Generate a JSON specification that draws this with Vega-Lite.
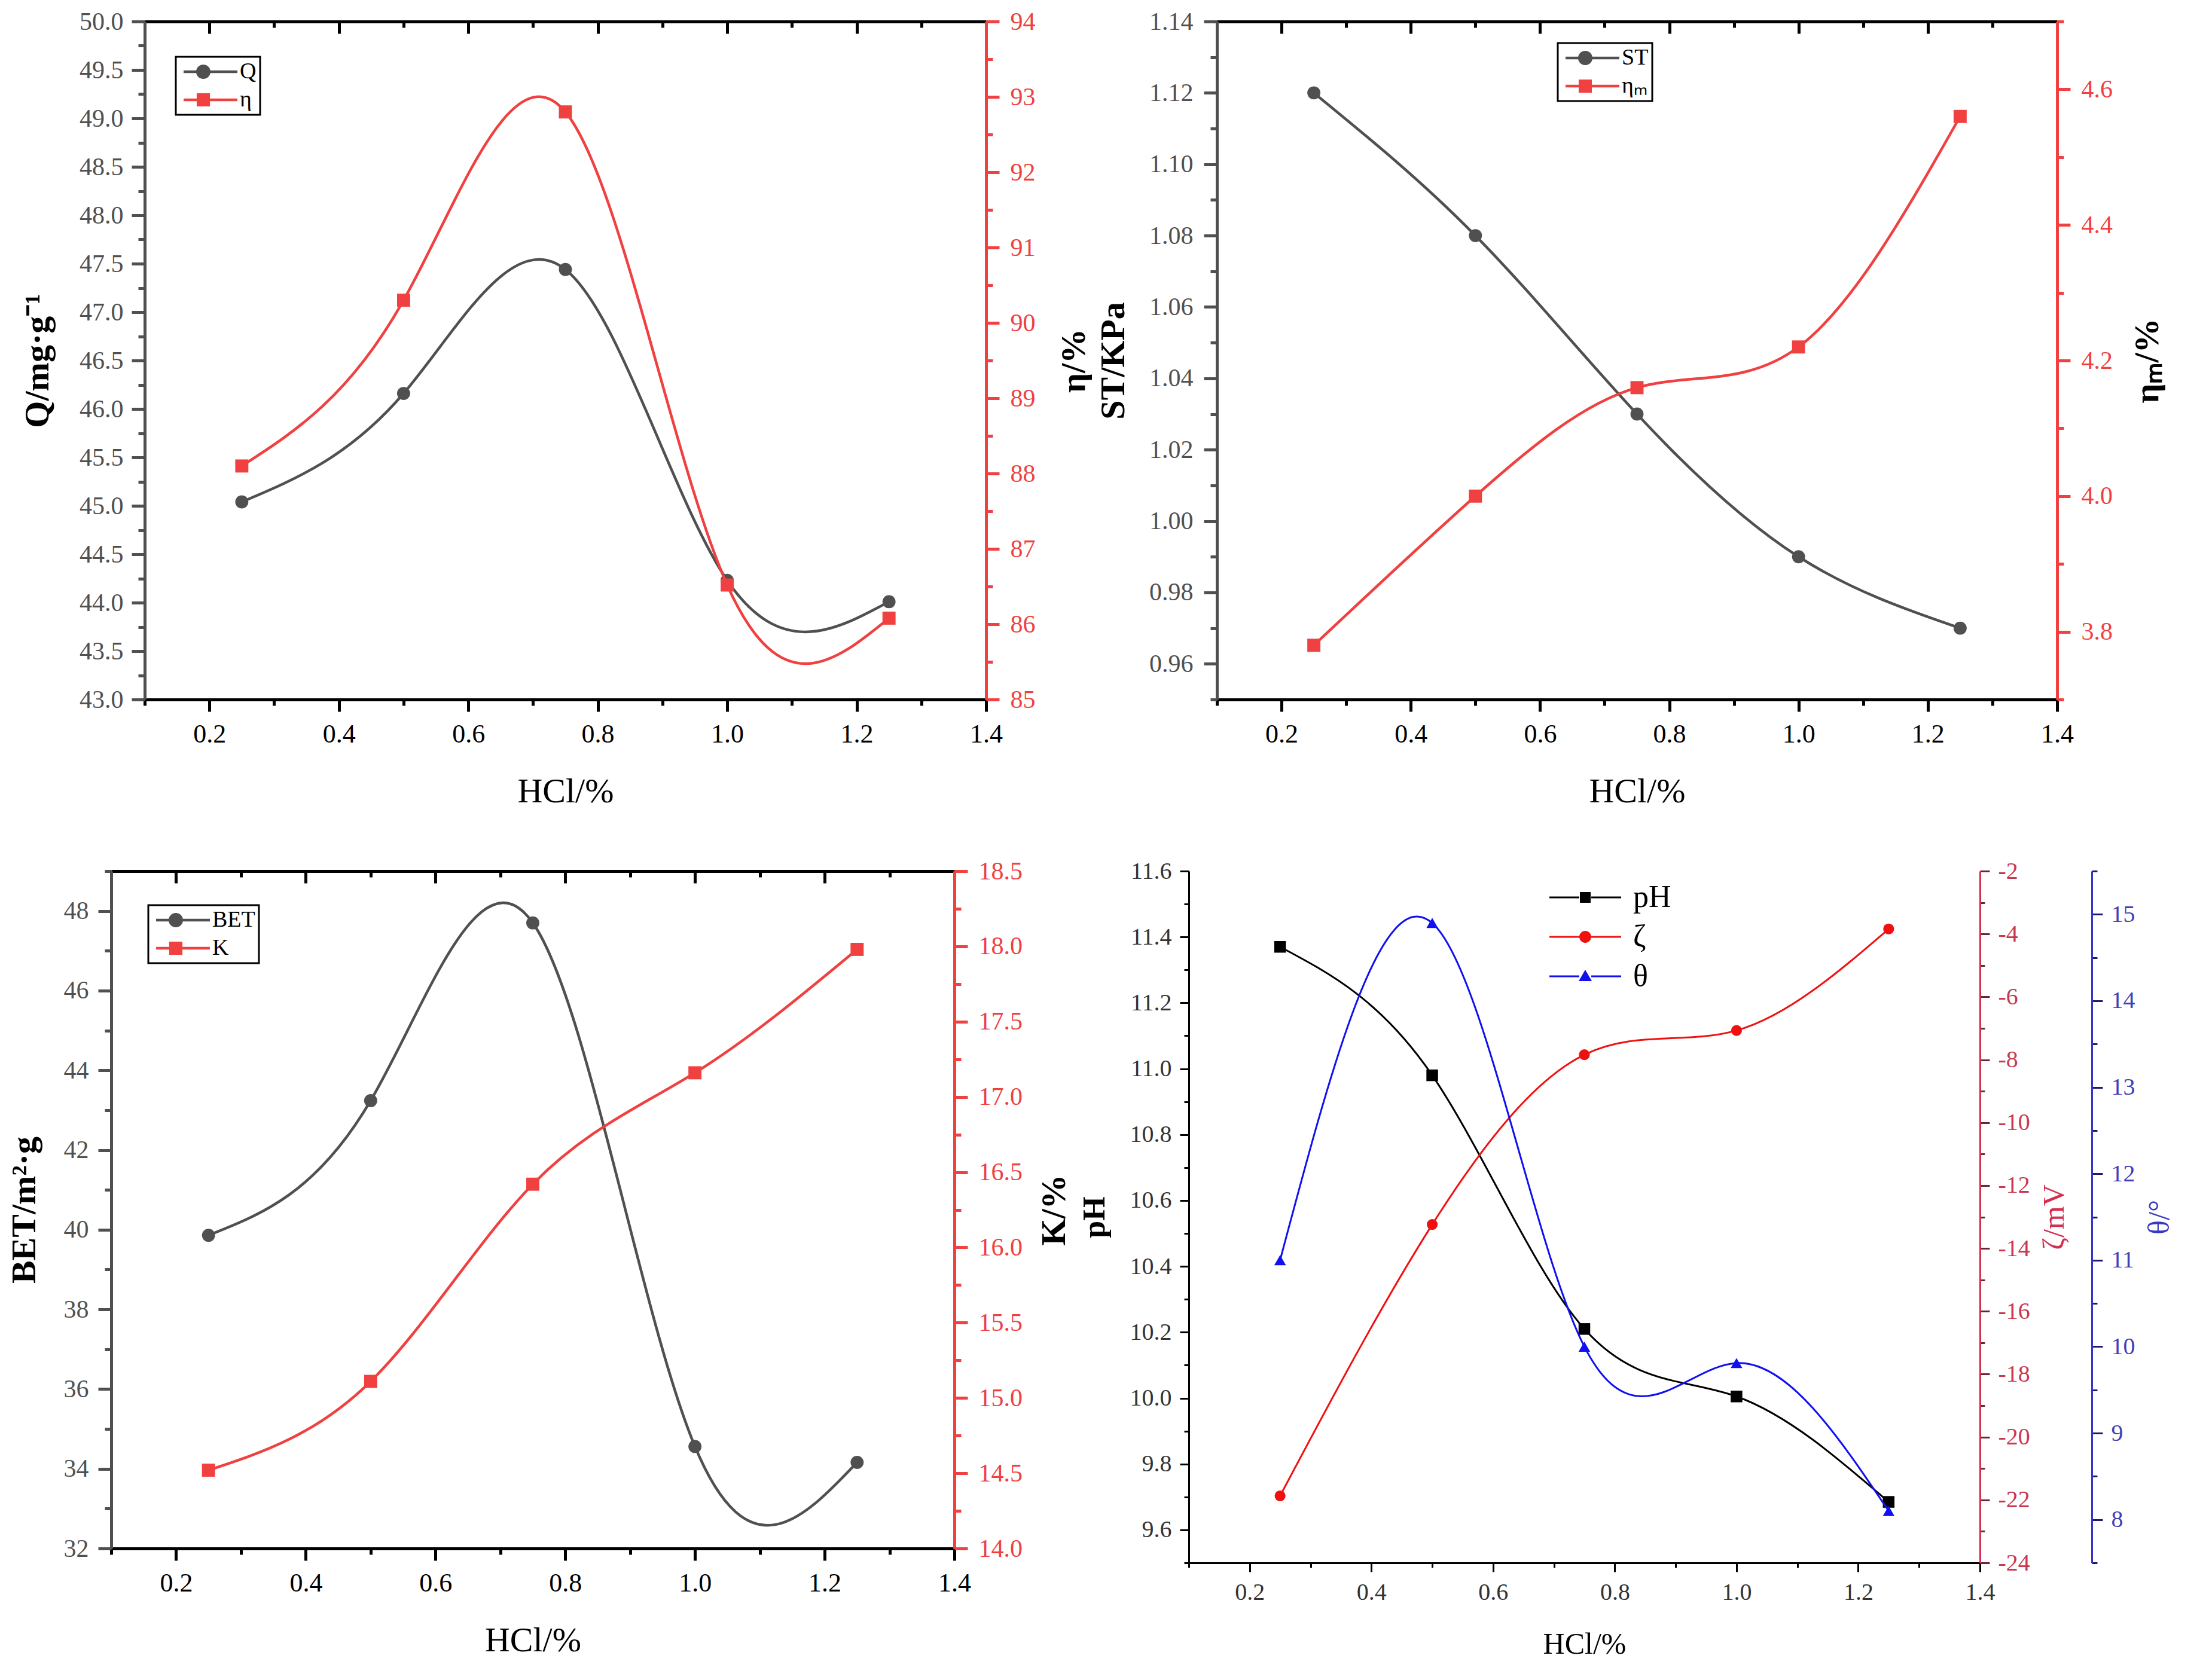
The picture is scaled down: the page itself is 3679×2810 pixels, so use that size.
{
  "$schema": "https://vega.github.io/schema/vega-lite/v6.json",
  "padding": {"left": 12, "top": 15, "right": 10, "bottom": 10},
  "datasets": {
    "d": [
      {"p": "a", "s": "Q", "x": 0.25, "y": 45.04},
      {"p": "a", "s": "Q", "x": 0.5, "y": 46.16},
      {"p": "a", "s": "Q", "x": 0.75, "y": 47.44},
      {"p": "a", "s": "Q", "x": 1.0, "y": 44.23},
      {"p": "a", "s": "Q", "x": 1.25, "y": 44.01},
      {"p": "a", "s": "η", "x": 0.25, "y": 88.1},
      {"p": "a", "s": "η", "x": 0.5, "y": 90.3},
      {"p": "a", "s": "η", "x": 0.75, "y": 92.8},
      {"p": "a", "s": "η", "x": 1.0, "y": 86.52},
      {"p": "a", "s": "η", "x": 1.25, "y": 86.08},
      {"p": "b", "s": "ST", "x": 0.25, "y": 1.12},
      {"p": "b", "s": "ST", "x": 0.5, "y": 1.08},
      {"p": "b", "s": "ST", "x": 0.75, "y": 1.03},
      {"p": "b", "s": "ST", "x": 1.0, "y": 0.99},
      {"p": "b", "s": "ST", "x": 1.25, "y": 0.97},
      {"p": "b", "s": "ηₘ", "x": 0.25, "y": 3.78},
      {"p": "b", "s": "ηₘ", "x": 0.5, "y": 4.0},
      {"p": "b", "s": "ηₘ", "x": 0.75, "y": 4.16},
      {"p": "b", "s": "ηₘ", "x": 1.0, "y": 4.22},
      {"p": "b", "s": "ηₘ", "x": 1.25, "y": 4.56},
      {"p": "c", "s": "BET", "x": 0.25, "y": 39.86},
      {"p": "c", "s": "BET", "x": 0.5, "y": 43.24},
      {"p": "c", "s": "BET", "x": 0.75, "y": 47.7},
      {"p": "c", "s": "BET", "x": 1.0, "y": 34.56},
      {"p": "c", "s": "BET", "x": 1.25, "y": 34.16},
      {"p": "c", "s": "K", "x": 0.25, "y": 14.52},
      {"p": "c", "s": "K", "x": 0.5, "y": 15.11},
      {"p": "c", "s": "K", "x": 0.75, "y": 16.42},
      {"p": "c", "s": "K", "x": 1.0, "y": 17.16},
      {"p": "c", "s": "K", "x": 1.25, "y": 17.98},
      {"p": "d", "s": "pH", "x": 0.25, "y": 11.37},
      {"p": "d", "s": "pH", "x": 0.5, "y": 10.98},
      {"p": "d", "s": "pH", "x": 0.75, "y": 10.21},
      {"p": "d", "s": "pH", "x": 1.0, "y": 10.005},
      {"p": "d", "s": "pH", "x": 1.25, "y": 9.685},
      {"p": "d", "s": "ζ", "x": 0.25, "y": -21.87},
      {"p": "d", "s": "ζ", "x": 0.5, "y": -13.24},
      {"p": "d", "s": "ζ", "x": 0.75, "y": -7.84},
      {"p": "d", "s": "ζ", "x": 1.0, "y": -7.07},
      {"p": "d", "s": "ζ", "x": 1.25, "y": -3.84},
      {"p": "d", "s": "θ", "x": 0.25, "y": 11.0},
      {"p": "d", "s": "θ", "x": 0.5, "y": 14.9},
      {"p": "d", "s": "θ", "x": 0.75, "y": 10.0},
      {"p": "d", "s": "θ", "x": 1.0, "y": 9.81},
      {"p": "d", "s": "θ", "x": 1.25, "y": 8.1}
    ]
  },
  "data": {"name": "d"},
  "spacing": 83,
  "resolve": {"scale": {"color": "independent"}, "legend": {"color": "independent"}},
  "vconcat": [
    {
      "spacing": 55,
      "bounds": "flush",
      "resolve": {"scale": {"color": "independent"}, "legend": {"color": "independent"}},
      "hconcat": [
        {"width": 1, "height": 1, "data": {"values": []}, "mark": {"type": "point", "opacity": 0}},
        {
          "spacing": 386,
          "bounds": "flush",
          "resolve": {"scale": {"color": "independent"}, "legend": {"color": "independent"}},
          "hconcat": [
            {
              "width": 1407, "height": 1134,
              "layer": [
                {
                  "transform": [{"filter": {"field": "s", "equal": "Q"}}],
                  "mark": {"type": "line", "interpolate": "natural", "strokeWidth": 4.5, "point": {"filled": true, "size": 480, "shape": "circle"}},
                  "encoding": {
                    "x": {"field": "x", "type": "quantitative", "scale": {"domain": [0.1, 1.4], "nice": false, "zero": false},
                      "axis": {"orient": "bottom", "values": [0.1,0.2,0.3,0.4,0.5,0.6,0.7,0.8,0.9,1,1.1,1.2,1.3,1.4],
                        "labelExpr": "round(datum.value*10)%2==0 ? format(datum.value,'.1f') : ''",
                        "tickSize": {"condition": {"test": "round(datum.value*10)%2==0", "value": 20}, "value": 10},
                        "title": "HCl/%", "titleFontWeight": "normal", "titleFontSize": 58, "titlePadding": 45,
                        "labelFontSize": 44, "labelColor": "#000000", "labelPadding": 16, "domainColor": "#000000", "tickColor": "#000000"}},
                    "y": {"field": "y", "type": "quantitative", "scale": {"domain": [43, 50], "nice": false, "zero": false},
                      "axis": {"orient": "left", "values": [43,43.25,43.5,43.75,44,44.25,44.5,44.75,45,45.25,45.5,45.75,46,46.25,46.5,46.75,47,47.25,47.5,47.75,48,48.25,48.5,48.75,49,49.25,49.5,49.75,50],
                        "labelExpr": "round(datum.value*4)%2==0 ? format(datum.value,'.1f') : ''",
                        "tickSize": {"condition": {"test": "round(datum.value*4)%2==0", "value": 22}, "value": 11},
                        "title": "Q/mg·g⁻¹", "titlePadding": 40, "labelPadding": 14,
                        "labelColor": "#505050", "domainColor": "#505050", "tickColor": "#505050"}},
                    "color": {"field": "s", "type": "nominal", "scale": {"domain": ["Q", "η"], "range": ["#505050", "#f04040"]},
                      "legend": {"title": null, "orient": "none", "legendX": 52, "legendY": 59, "strokeColor": "#000000",
                        "encode": {
                          "legend": {"update": {"stroke": {"value": "#000000"}, "strokeWidth": {"value": 3}}},
                          "symbols": {"update": {
                          "shape": {"signal": "datum.index===0 ? 'M-1,-0.19H0.85V0.19H-1Z M2.65,-0.19H6.5V0.19H2.65Z M0.75,0A1,1 0 1 1 2.75,0A1,1 0 1 1 0.75,0Z' : 'M-1,-0.19H0.85V0.19H-1Z M2.65,-0.19H6.5V0.19H2.65Z M0.83,-0.92H2.67V0.92H0.83Z'"},
                          "fill": {"signal": "datum.index===0 ? '#505050' : '#f04040'"},
                          "strokeWidth": {"value": 0}}}}}}
                  }
                },
                {
                  "transform": [{"filter": {"field": "s", "equal": "η"}}],
                  "mark": {"type": "line", "interpolate": "natural", "strokeWidth": 4.5, "point": {"filled": true, "size": 480, "shape": "square"}},
                  "encoding": {
                    "x": {"field": "x", "type": "quantitative", "scale": {"domain": [0.1, 1.4], "nice": false, "zero": false},
                      "axis": {"orient": "top", "values": [0.1,0.2,0.3,0.4,0.5,0.6,0.7,0.8,0.9,1,1.1,1.2,1.3,1.4], "labels": false, "title": null,
                        "tickSize": {"condition": {"test": "round(datum.value*10)%2==0", "value": -20}, "value": -10},
                        "domainColor": "#000000", "tickColor": "#000000"}},
                    "y": {"field": "y", "type": "quantitative", "scale": {"domain": [85, 94], "nice": false, "zero": false},
                      "axis": {"orient": "right", "values": [85,85.5,86,86.5,87,87.5,88,88.5,89,89.5,90,90.5,91,91.5,92,92.5,93,93.5,94],
                        "labelExpr": "round(datum.value*2)%2==0 ? ''+datum.value : ''",
                        "tickSize": {"condition": {"test": "round(datum.value*2)%2==0", "value": 22}, "value": 11},
                        "title": "η/%", "titleAngle": 270, "titleBaseline": "top", "titlePadding": 36, "labelPadding": 18,
                        "labelColor": "#f04040", "domainColor": "#f04040", "tickColor": "#f04040"}},
                    "color": {"field": "s", "type": "nominal"}
                  }
                }
              ],
              "resolve": {"scale": {"y": "independent"}, "axis": {"x": "independent"}}
            },
            {
              "width": 1405, "height": 1134,
              "layer": [
                {
                  "transform": [{"filter": {"field": "s", "equal": "ST"}}],
                  "mark": {"type": "line", "interpolate": "natural", "strokeWidth": 4.5, "point": {"filled": true, "size": 480, "shape": "circle"}},
                  "encoding": {
                    "x": {"field": "x", "type": "quantitative", "scale": {"domain": [0.1, 1.4], "nice": false, "zero": false},
                      "axis": {"orient": "bottom", "values": [0.1,0.2,0.3,0.4,0.5,0.6,0.7,0.8,0.9,1,1.1,1.2,1.3,1.4],
                        "labelExpr": "round(datum.value*10)%2==0 ? format(datum.value,'.1f') : ''",
                        "tickSize": {"condition": {"test": "round(datum.value*10)%2==0", "value": 20}, "value": 10},
                        "title": "HCl/%", "titleFontWeight": "normal", "titleFontSize": 58, "titlePadding": 45,
                        "labelFontSize": 44, "labelColor": "#000000", "labelPadding": 16, "domainColor": "#000000", "tickColor": "#000000"}},
                    "y": {"field": "y", "type": "quantitative", "scale": {"domain": [0.95, 1.14], "nice": false, "zero": false},
                      "axis": {"orient": "left", "values": [0.95,0.96,0.97,0.98,0.99,1,1.01,1.02,1.03,1.04,1.05,1.06,1.07,1.08,1.09,1.1,1.11,1.12,1.13,1.14],
                        "labelExpr": "round(datum.value*100)%2==0 ? format(datum.value,'.2f') : ''",
                        "tickSize": {"condition": {"test": "round(datum.value*100)%2==0", "value": 22}, "value": 11},
                        "title": "ST/KPa", "titlePadding": 30, "labelPadding": 18,
                        "labelColor": "#505050", "domainColor": "#505050", "tickColor": "#505050"}},
                    "color": {"field": "s", "type": "nominal", "scale": {"domain": ["ST", "ηₘ"], "range": ["#505050", "#f04040"]},
                      "legend": {"title": null, "orient": "none", "legendX": 570, "legendY": 36, "strokeColor": "#000000",
                        "encode": {
                          "legend": {"update": {"stroke": {"value": "#000000"}, "strokeWidth": {"value": 3}}},
                          "symbols": {"update": {
                          "shape": {"signal": "datum.index===0 ? 'M-1,-0.19H0.85V0.19H-1Z M2.65,-0.19H6.5V0.19H2.65Z M0.75,0A1,1 0 1 1 2.75,0A1,1 0 1 1 0.75,0Z' : 'M-1,-0.19H0.85V0.19H-1Z M2.65,-0.19H6.5V0.19H2.65Z M0.83,-0.92H2.67V0.92H0.83Z'"},
                          "fill": {"signal": "datum.index===0 ? '#505050' : '#f04040'"},
                          "strokeWidth": {"value": 0}}}}}}
                  }
                },
                {
                  "transform": [{"filter": {"field": "s", "equal": "ηₘ"}}],
                  "mark": {"type": "line", "interpolate": "natural", "strokeWidth": 4.5, "point": {"filled": true, "size": 480, "shape": "square"}},
                  "encoding": {
                    "x": {"field": "x", "type": "quantitative", "scale": {"domain": [0.1, 1.4], "nice": false, "zero": false},
                      "axis": {"orient": "top", "values": [0.1,0.2,0.3,0.4,0.5,0.6,0.7,0.8,0.9,1,1.1,1.2,1.3,1.4], "labels": false, "title": null,
                        "tickSize": {"condition": {"test": "round(datum.value*10)%2==0", "value": -20}, "value": -10},
                        "domainColor": "#000000", "tickColor": "#000000"}},
                    "y": {"field": "y", "type": "quantitative", "scale": {"domain": [3.7, 4.7], "nice": false, "zero": false},
                      "axis": {"orient": "right", "values": [3.7,3.8,3.9,4,4.1,4.2,4.3,4.4,4.5,4.6,4.7],
                        "labelExpr": "round(datum.value*10)%2==0 ? format(datum.value,'.1f') : ''",
                        "tickSize": {"condition": {"test": "round(datum.value*10)%2==0", "value": 22}, "value": 11},
                        "title": "ηₘ/%", "titleAngle": 270, "titleBaseline": "top", "titlePadding": 30, "labelPadding": 18,
                        "labelColor": "#f04040", "domainColor": "#f04040", "tickColor": "#f04040"}},
                    "color": {"field": "s", "type": "nominal"}
                  }
                }
              ],
              "resolve": {"scale": {"y": "independent"}, "axis": {"x": "independent"}}
            }
          ]
        }
      ]
    },
    {
      "spacing": 392,
      "bounds": "flush",
      "resolve": {"scale": {"color": "independent"}, "legend": {"color": "independent"}},
      "hconcat": [
        {
          "width": 1410, "height": 1133,
          "layer": [
            {
              "transform": [{"filter": {"field": "s", "equal": "BET"}}],
              "mark": {"type": "line", "interpolate": "natural", "strokeWidth": 4.5, "point": {"filled": true, "size": 480, "shape": "circle"}},
              "encoding": {
                "x": {"field": "x", "type": "quantitative", "scale": {"domain": [0.1, 1.4], "nice": false, "zero": false},
                  "axis": {"orient": "bottom", "values": [0.1,0.2,0.3,0.4,0.5,0.6,0.7,0.8,0.9,1,1.1,1.2,1.3,1.4],
                    "labelExpr": "round(datum.value*10)%2==0 ? format(datum.value,'.1f') : ''",
                    "tickSize": {"condition": {"test": "round(datum.value*10)%2==0", "value": 20}, "value": 10},
                    "title": "HCl/%", "titleFontWeight": "normal", "titleFontSize": 58, "titlePadding": 45,
                    "labelFontSize": 44, "labelColor": "#000000", "labelPadding": 16, "domainColor": "#000000", "tickColor": "#000000"}},
                "y": {"field": "y", "type": "quantitative", "scale": {"domain": [32, 49], "nice": false, "zero": false},
                  "axis": {"orient": "left", "values": [32,33,34,35,36,37,38,39,40,41,42,43,44,45,46,47,48,49],
                    "labelExpr": "round(datum.value)%2==0 ? ''+datum.value : ''",
                    "tickSize": {"condition": {"test": "round(datum.value)%2==0", "value": 22}, "value": 11},
                    "title": "BET/m²·g", "titlePadding": 36, "labelPadding": 16,
                    "labelColor": "#505050", "domainColor": "#505050", "tickColor": "#505050"}},
                "color": {"field": "s", "type": "nominal", "scale": {"domain": ["BET", "K"], "range": ["#505050", "#f04040"]},
                  "legend": {"title": null, "orient": "none", "legendX": 62, "legendY": 57, "strokeColor": "#000000",
                    "encode": {
                      "legend": {"update": {"stroke": {"value": "#000000"}, "strokeWidth": {"value": 3}}},
                      "symbols": {"update": {
                      "shape": {"signal": "datum.index===0 ? 'M-1,-0.19H0.85V0.19H-1Z M2.65,-0.19H6.5V0.19H2.65Z M0.75,0A1,1 0 1 1 2.75,0A1,1 0 1 1 0.75,0Z' : 'M-1,-0.19H0.85V0.19H-1Z M2.65,-0.19H6.5V0.19H2.65Z M0.83,-0.92H2.67V0.92H0.83Z'"},
                      "fill": {"signal": "datum.index===0 ? '#505050' : '#f04040'"},
                      "strokeWidth": {"value": 0}}}}}}
              }
            },
            {
              "transform": [{"filter": {"field": "s", "equal": "K"}}],
              "mark": {"type": "line", "interpolate": "natural", "strokeWidth": 4.5, "point": {"filled": true, "size": 480, "shape": "square"}},
              "encoding": {
                "x": {"field": "x", "type": "quantitative", "scale": {"domain": [0.1, 1.4], "nice": false, "zero": false},
                  "axis": {"orient": "top", "values": [0.1,0.2,0.3,0.4,0.5,0.6,0.7,0.8,0.9,1,1.1,1.2,1.3,1.4], "labels": false, "title": null,
                    "tickSize": {"condition": {"test": "round(datum.value*10)%2==0", "value": -20}, "value": -10},
                    "domainColor": "#000000", "tickColor": "#000000"}},
                "y": {"field": "y", "type": "quantitative", "scale": {"domain": [14, 18.5], "nice": false, "zero": false},
                  "axis": {"orient": "right", "values": [14,14.25,14.5,14.75,15,15.25,15.5,15.75,16,16.25,16.5,16.75,17,17.25,17.5,17.75,18,18.25,18.5],
                    "labelExpr": "round(datum.value*4)%2==0 ? format(datum.value,'.1f') : ''",
                    "tickSize": {"condition": {"test": "round(datum.value*4)%2==0", "value": 22}, "value": 11},
                    "title": "K/%", "titleAngle": 270, "titleBaseline": "top", "titlePadding": 25, "labelPadding": 18,
                    "labelColor": "#f04040", "domainColor": "#f04040", "tickColor": "#f04040"}},
                "color": {"field": "s", "type": "nominal"}
              }
            }
          ],
          "resolve": {"scale": {"y": "independent"}, "axis": {"x": "independent"}}
        },
        {
          "width": 1323, "height": 1157,
          "layer": [
            {
              "transform": [{"filter": {"field": "s", "equal": "pH"}}],
              "mark": {"type": "line", "interpolate": "natural", "strokeWidth": 3, "point": {"filled": true, "size": 380, "shape": "square"}},
              "encoding": {
                "x": {"field": "x", "type": "quantitative", "scale": {"domain": [0.1, 1.4], "nice": false, "zero": false},
                  "axis": {"orient": "bottom", "values": [0.1,0.2,0.3,0.4,0.5,0.6,0.7,0.8,0.9,1,1.1,1.2,1.3,1.4],
                    "labelExpr": "round(datum.value*10)%2==0 ? format(datum.value,'.1f') : ''",
                    "tickSize": {"condition": {"test": "round(datum.value*10)%2==0", "value": 15}, "value": 8},
                    "title": "HCl/%", "titleFontWeight": "normal", "titleFontSize": 50, "titlePadding": 42,
                    "labelFontSize": 40, "labelColor": "#333333", "labelPadding": 14, "domainColor": "#000000", "tickColor": "#000000",
                    "domainWidth": 3, "tickWidth": 3}},
                "y": {"field": "y", "type": "quantitative", "scale": {"domain": [9.5, 11.6], "nice": false, "zero": false},
                  "axis": {"orient": "left", "values": [9.5,9.6,9.7,9.8,9.9,10,10.1,10.2,10.3,10.4,10.5,10.6,10.7,10.8,10.9,11,11.1,11.2,11.3,11.4,11.5,11.6],
                    "labelExpr": "round(datum.value*10)%2==0 ? format(datum.value,'.1f') : ''",
                    "tickSize": {"condition": {"test": "round(datum.value*10)%2==0", "value": 15}, "value": 8},
                    "title": "pH", "titleFontSize": 52, "titlePadding": 32, "labelPadding": 14, "labelFontSize": 40,
                    "labelColor": "#333333", "domainColor": "#000000", "tickColor": "#000000", "domainWidth": 3, "tickWidth": 3}},
                "color": {"field": "s", "type": "nominal", "scale": {"domain": ["pH", "ζ", "θ"], "range": ["#000000", "#f01010", "#1010f0"]},
                  "legend": {"title": null, "orient": "none", "legendX": 581, "legendY": 12,
                    "labelFontSize": 52, "symbolSize": 400, "labelOffset": 104, "rowPadding": 14,
                    "encode": {"symbols": {"update": {
                      "shape": {"signal": "datum.index===0 ? 'M-1,-0.15H4V0.15H-1Z M6,-0.15H11V0.15H6Z M4.1,-0.9H5.9V0.9H4.1Z' : datum.index===1 ? 'M-1,-0.15H4V0.15H-1Z M6,-0.15H11V0.15H6Z M4,0A1,1 0 1 1 6,0A1,1 0 1 1 4,0Z' : 'M-1,-0.15H4V0.15H-1Z M6,-0.15H11V0.15H6Z M5,-1.1L6.1,0.8H3.9Z'"},
                      "fill": {"signal": "datum.index===0 ? '#000000' : datum.index===1 ? '#f01010' : '#1010f0'"},
                      "strokeWidth": {"value": 0}}}}}}
              }
            },
            {
              "transform": [{"filter": {"field": "s", "equal": "ζ"}}],
              "mark": {"type": "line", "interpolate": "natural", "strokeWidth": 3, "point": {"filled": true, "size": 330, "shape": "circle"}},
              "encoding": {
                "x": {"field": "x", "type": "quantitative", "scale": {"domain": [0.1, 1.4], "nice": false, "zero": false}, "axis": null},
                "y": {"field": "y", "type": "quantitative", "scale": {"domain": [-24, -2], "nice": false, "zero": false},
                  "axis": {"orient": "right", "values": [-24,-23,-22,-21,-20,-19,-18,-17,-16,-15,-14,-13,-12,-11,-10,-9,-8,-7,-6,-5,-4,-3,-2],
                    "labelExpr": "round(datum.value)%2==0 ? ''+datum.value : ''",
                    "tickSize": {"condition": {"test": "round(datum.value)%2==0", "value": 16}, "value": 8},
                    "title": "ζ/mV", "titleColor": "#d42f4f", "titleFontWeight": "normal", "titleFontSize": 50,
                    "titleAngle": 270, "titleBaseline": "top", "titlePadding": 16, "labelPadding": 14, "labelFontSize": 40,
                    "labelColor": "#c8384f", "domainColor": "#d42f4f", "tickColor": "#6a2434", "domainWidth": 3, "tickWidth": 3}},
                "color": {"field": "s", "type": "nominal"}
              }
            },
            {
              "transform": [{"filter": {"field": "s", "equal": "θ"}}],
              "mark": {"type": "line", "interpolate": "natural", "strokeWidth": 3, "point": {"filled": true, "size": 380, "shape": "triangle-up"}},
              "encoding": {
                "x": {"field": "x", "type": "quantitative", "scale": {"domain": [0.1, 1.4], "nice": false, "zero": false}, "axis": null},
                "y": {"field": "y", "type": "quantitative", "scale": {"domain": [7.5, 15.5], "nice": false, "zero": false},
                  "axis": {"orient": "right", "offset": 187, "values": [7.5,8,8.5,9,9.5,10,10.5,11,11.5,12,12.5,13,13.5,14,14.5,15,15.5],
                    "labelExpr": "round(datum.value*2)%2==0 ? ''+datum.value : ''",
                    "tickSize": {"condition": {"test": "round(datum.value*2)%2==0", "value": 18}, "value": 9},
                    "title": "θ/°", "titleColor": "#3a3ac0", "titleFontWeight": "normal", "titleFontSize": 50,
                    "titleAngle": 270, "titleBaseline": "top", "titlePadding": 16, "labelPadding": 14, "labelFontSize": 40,
                    "labelColor": "#4040b8", "domainColor": "#3535c8", "tickColor": "#1a1a70", "domainWidth": 3, "tickWidth": 3}},
                "color": {"field": "s", "type": "nominal"}
              }
            }
          ],
          "resolve": {"scale": {"y": "independent"}, "axis": {"x": "independent"}}
        }
      ]
    }
  ],
  "config": {
    "font": "Liberation Serif",
    "view": {"stroke": null},
    "style": {"guide-label": {"font": "Liberation Serif"}, "guide-title": {"font": "Liberation Serif"}},
    "axis": {
      "labelFont": "Liberation Serif", "titleFont": "Liberation Serif",
      "labelFontSize": 42, "titleFontSize": 58, "titleFontWeight": "bold", "titleColor": "#000000",
      "domainWidth": 5, "tickWidth": 5, "grid": false, "labelFlush": false, "labelOverlap": false, "labelBound": false
    },
    "legend": {
      "labelFont": "Liberation Serif", "labelFontSize": 38, "labelColor": "#000000",
      "padding": 6, "symbolSize": 576, "labelOffset": 63, "rowPadding": 9
    }
  }
}
